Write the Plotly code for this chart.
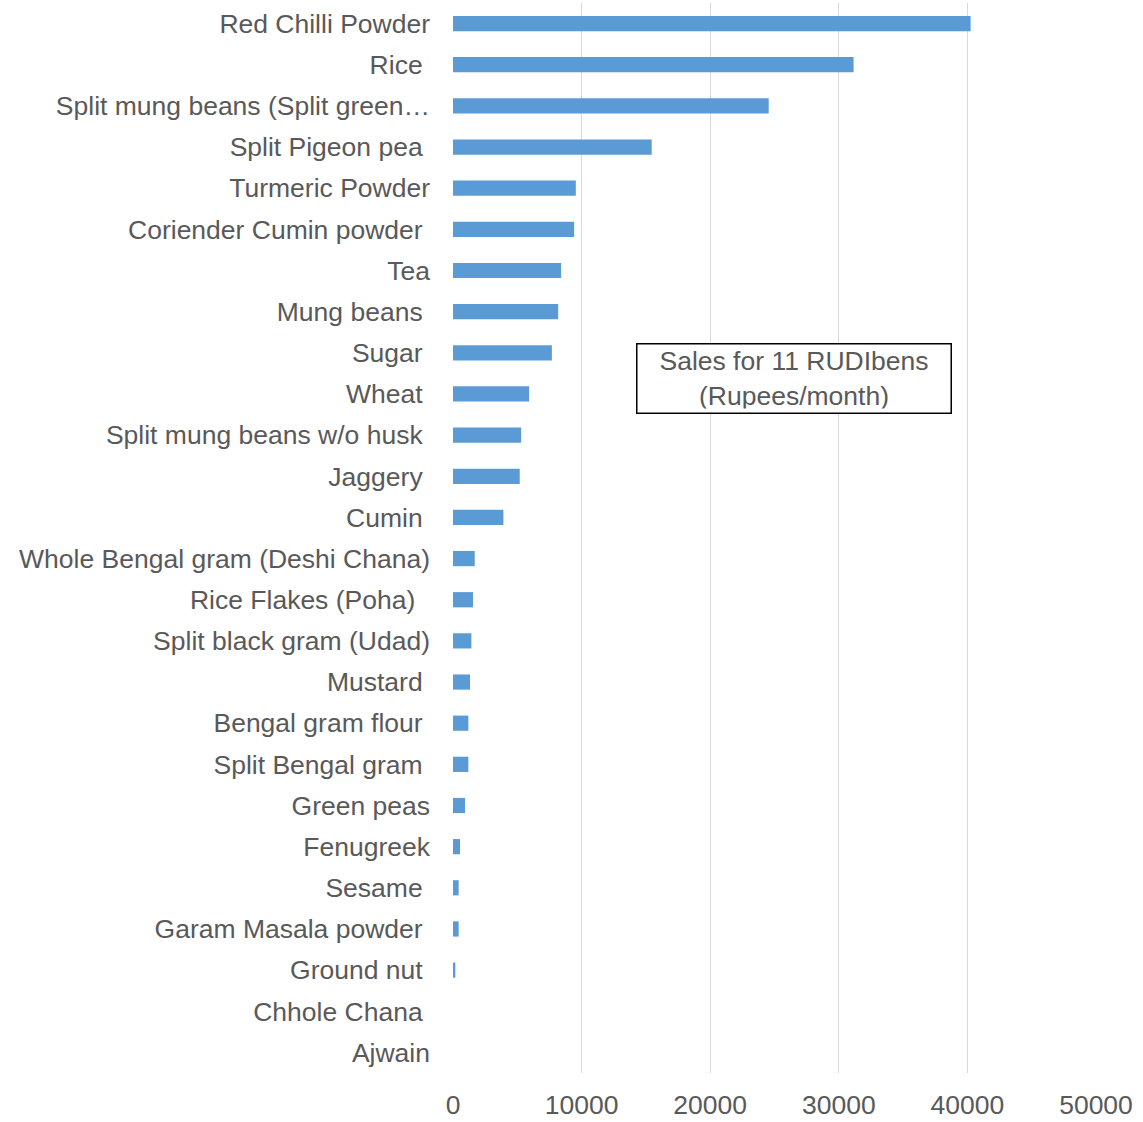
import plotly.graph_objects as go

NB = "\u00a0"
categories = [
    "Red Chilli Powder",
    "Rice" + NB,
    "Split mung beans (Split green…",
    "Split Pigeon pea" + NB,
    "Turmeric Powder",
    "Coriender Cumin powder" + NB,
    "Tea",
    "Mung beans" + NB,
    "Sugar" + NB,
    "Wheat" + NB,
    "Split mung beans w/o husk" + NB,
    "Jaggery" + NB,
    "Cumin" + NB,
    "Whole Bengal gram (Deshi Chana)",
    "Rice Flakes (Poha)" + NB + NB,
    "Split black gram (Udad)",
    "Mustard" + NB,
    "Bengal gram flour" + NB,
    "Split Bengal gram" + NB,
    "Green peas",
    "Fenugreek",
    "Sesame" + NB,
    "Garam Masala powder" + NB,
    "Ground nut" + NB,
    "Chhole Chana" + NB,
    "Ajwain",
]
sales = [
    40250, 31150, 24550, 15450, 9550, 9420, 8410, 8180, 7690, 5920,
    5300, 5190, 3920, 1690, 1560, 1430, 1325, 1195, 1195, 935,
    545, 440, 440, 180, 0, 0,
]
x_ticks = [0, 10000, 20000, 30000, 40000, 50000]
note = "Sales for 11 RUDIbens<br>(Rupees/month)"

FONT = "Liberation Sans, Arial, sans-serif"
GRAY = "#595959"

fig = go.Figure(go.Bar(
    x=sales, y=categories, orientation="h",
    marker=dict(color="#5B9BD5", line=dict(width=0)),
))

fig.update_layout(
    width=1143, height=1122,
    margin=dict(l=453, r=47, t=3, b=49),
    paper_bgcolor="white", plot_bgcolor="white",
    bargap=0.63,
    showlegend=False,
    font=dict(family=FONT, size=26.5, color=GRAY),
    xaxis=dict(
        range=[0, 50000], tickvals=x_ticks, ticktext=[str(v) for v in x_ticks],
        showgrid=True, gridcolor="#D9D9D9", gridwidth=1,
        zeroline=False, showline=False,
        ticks="", ticklabelstandoff=13,
        tickfont=dict(family=FONT, size=26.5, color=GRAY),
    ),
    yaxis=dict(
        autorange="reversed", type="category",
        showgrid=False, zeroline=False,
        showline=False,
        ticks="", ticklabelstandoff=22,
        tickfont=dict(family=FONT, size=26.5, color=GRAY),
    ),
    annotations=[dict(
        text=note, xref="paper", yref="paper", x=0.531, y=0.6486,
        showarrow=False, align="center",
        width=305, height=60,
        font=dict(family=FONT, size=26.5, color=GRAY),
        bordercolor="#000000", borderwidth=1.5, borderpad=4,
        bgcolor="white",
    )],
)

fig.write_html("out.html")
